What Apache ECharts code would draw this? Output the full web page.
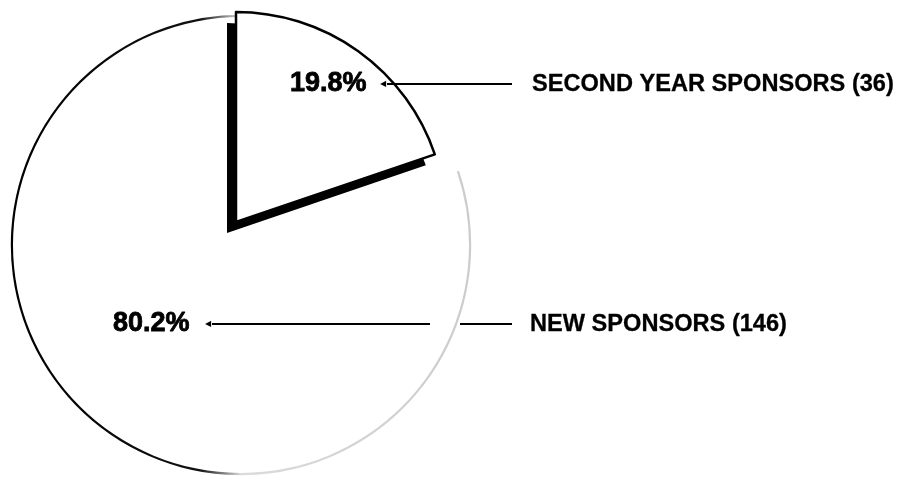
<!DOCTYPE html>
<html>
<head>
<meta charset="utf-8">
<title>Sponsors</title>
<script src="https://cdn.jsdelivr.net/npm/echarts@6/dist/echarts.min.js"></script>
<style>
  html, body { margin: 0; padding: 0; background: #fff; }
  #chart { width: 898px; height: 479px; }
</style>
</head>
<body>
<div id="chart"></div>
<script>
// Sponsor groups and their head counts
const categories = ['SECOND YEAR SPONSORS', 'NEW SPONSORS'];
const sponsorCounts = [36, 146];

// Where each slice's caption row sits, and how its leader rule is split
const rowLayout = [
  { x: 290, y: 84, pctW: 90, rules: [125], gaps: [], lead: 20 },
  { x: 113, y: 324, pctW: 92, rules: [218, 52], gaps: [30], lead: 18 }
];

const chart = echarts.init(document.getElementById('chart'));

function captionFor(i) {
  const row = rowLayout[i];
  const rich = {
    pct: {
      fontFamily: 'Liberation Sans, Arial, sans-serif', fontWeight: 'bold', fontSize: 27,
      color: '#000', textBorderColor: '#000', textBorderWidth: 0.8, width: row.pctW, align: 'left'
    },
    arw: { fontFamily: 'DejaVu Sans', fontSize: 8, color: '#000', width: 7, align: 'left' },
    nm: {
      fontFamily: 'Liberation Sans, Arial, sans-serif', fontWeight: 'bold', fontSize: 23.6,
      color: '#000', textBorderColor: '#000', textBorderWidth: 0.3
    },
    lead: { width: row.lead, height: 2 }
  };
  let ruleText = '';
  row.rules.forEach((w, k) => {
    rich['r' + k] = { width: w, height: 2, backgroundColor: '#000' };
    ruleText += '{r' + k + '|}';
    if (k < row.gaps.length) {
      rich['g' + k] = { width: row.gaps[k], height: 2 };
      ruleText += '{g' + k + '|}';
    }
  });
  return {
    show: true,
    position: 'outside',
    alignTo: 'none',
    overflow: 'none',
    rich,
    formatter: p => '{pct|' + p.percent.toFixed(1) + '%}{arw|\u25C0}' + ruleText +
      '{lead|}{nm|' + p.name + ' (' + p.value + ')}'
  };
}

// One pie per drawn layer; the hidden item stays in the data so the angles come from the totals
function sliceSeries(showIndex, center, radius, visibleStyle, withCaption) {
  return {
    type: 'pie',
    center,
    radius,
    startAngle: 90,
    clockwise: true,
    percentPrecision: 1,
    avoidLabelOverlap: false,
    silent: true,
    animation: false,
    labelLine: { show: false },
    data: categories.map((name, i) => ({
      name,
      value: sponsorCounts[i],
      itemStyle: i === showIndex ? visibleStyle : { color: 'rgba(0,0,0,0)', borderWidth: 0 },
      label: i === showIndex && withCaption ? captionFor(i) : { show: false }
    })),
    labelLayout: p => (withCaption && p.dataIndex === showIndex)
      ? { x: rowLayout[showIndex].x, y: rowLayout[showIndex].y, align: 'left', verticalAlign: 'middle' }
      : {}
  };
}

// Rim of the large slice: solid ink on the left, barely printed on the right
const rimFade = new echarts.graphic.LinearGradient(0, 0, 1, 0, [
  { offset: 0, color: '#000' },
  { offset: 0.41, color: '#111' },
  { offset: 0.5, color: 'rgba(0,0,0,0.14)' },
  { offset: 1, color: 'rgba(0,0,0,0.2)' }
]);

const bigCenter = [241, 245];
const bigRadius = 229;
const smallCenter = [236, 222];
const smallRadius = 210;

chart.setOption({
  backgroundColor: '#fff',
  series: [
    sliceSeries(1, bigCenter, bigRadius, { color: '#fff', borderWidth: 0 }, true),
    sliceSeries(1, bigCenter, [bigRadius - 1, bigRadius + 1.2], { color: rimFade, borderWidth: 0 }, false),
    sliceSeries(0, smallCenter, smallRadius, {
      color: '#fff',
      borderWidth: 0,
      shadowColor: '#000',
      shadowBlur: 0,
      shadowOffsetX: -9,
      shadowOffsetY: 11
    }, false),
    sliceSeries(0, smallCenter, smallRadius, {
      color: 'rgba(255,255,255,0)',
      borderColor: '#000',
      borderWidth: 2.5
    }, true)
  ]
});
</script>
</body>
</html>
